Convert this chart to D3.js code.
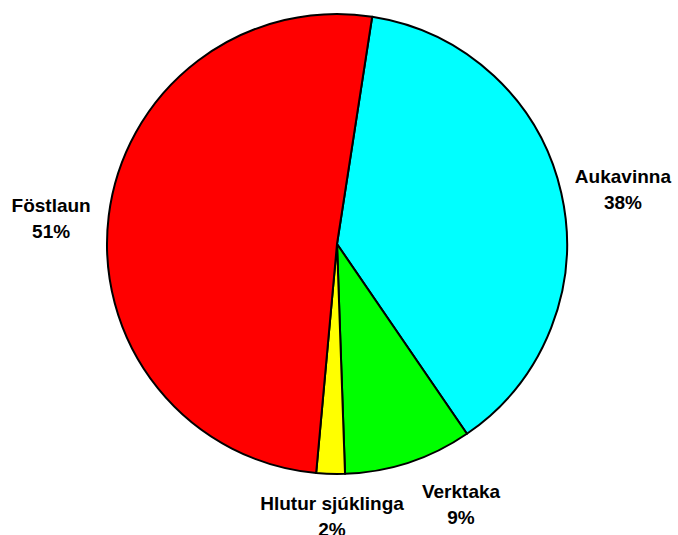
<!DOCTYPE html>
<html>
<head>
<meta charset="utf-8">
<script src="https://cdn.jsdelivr.net/npm/d3@7/dist/d3.min.js"></script>
<style>
  body { margin: 0; background: #fff; }
  text { font-family: "Liberation Sans", Arial, sans-serif; font-weight: bold; fill: #000; }
</style>
</head>
<body>
<div class="chart"></div>
<script>
// data, in drawing order (clockwise from the top)
const categories = ['Aukavinna', 'Verktaka', 'Hlutur sjúklinga', 'Föstlaun'];
const values = [38, 9, 2, 51];
const colors = ['#00FFFF', '#00FF00', '#FFFF00', '#FF0000'];

const width = 678;
const height = 535;
const cx = 337;
const cy = 244;
const radius = 230;
const labelRadius = 285;
const startAngle = 8.8 * Math.PI / 180;
// small label nudges, like the spreadsheet's own label placement
const labelNudge = {
  Aukavinna: [8, 9],
  Verktaka: [35, -10],
  'Hlutur sjúklinga': [3, -12],
  'Föstlaun': [-3, 9]
};

const rows = categories.map((c, i) => ({ name: c, value: values[i], color: colors[i] }));

const pie = d3.pie()
  .sort(null)
  .value(d => d.value)
  .startAngle(startAngle)
  .endAngle(startAngle + 2 * Math.PI);

const arc = d3.arc().innerRadius(0).outerRadius(radius);
const labelArc = d3.arc().innerRadius(labelRadius).outerRadius(labelRadius);

const svg = d3.select('.chart')
  .append('svg')
  .attr('width', width)
  .attr('height', height);

const g = svg.append('g')
  .attr('transform', `translate(${cx},${cy})`);

const arcs = pie(rows);

g.selectAll('path.slice')
  .data(arcs)
  .enter()
  .append('path')
  .attr('class', 'slice')
  .attr('d', arc)
  .attr('fill', d => d.data.color)
  .attr('stroke', '#000')
  .attr('stroke-width', 2)
  .attr('stroke-linejoin', 'round');

const labels = g.selectAll('g.label')
  .data(arcs)
  .enter()
  .append('g')
  .attr('class', 'label')
  .attr('transform', d => {
    const [x, y] = labelArc.centroid(d);
    const [nx, ny] = labelNudge[d.data.name] || [0, 0];
    return `translate(${x + nx},${y + ny})`;
  });

labels.append('text')
  .attr('text-anchor', 'middle')
  .attr('dominant-baseline', 'central')
  .attr('y', -13)
  .style('font-size', '19px')
  .text(d => d.data.name);

labels.append('text')
  .attr('text-anchor', 'middle')
  .attr('dominant-baseline', 'central')
  .attr('y', 13)
  .style('font-size', '19px')
  .text(d => `${d.data.value}%`);
</script>
</body>
</html>
